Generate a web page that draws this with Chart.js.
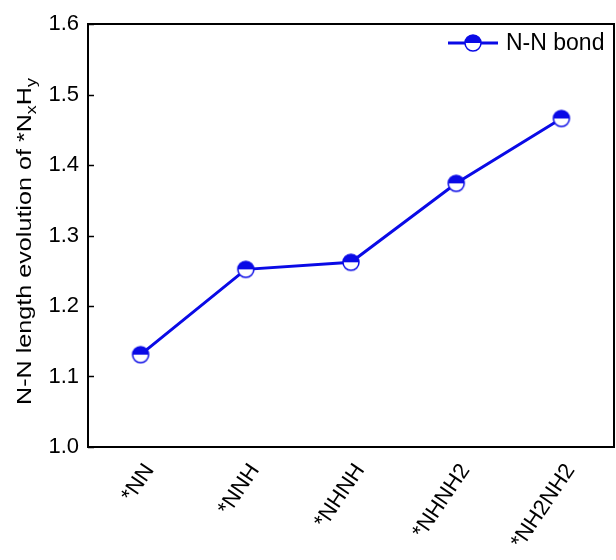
<!DOCTYPE html>
<html>
<head>
<meta charset="utf-8">
<script src="https://cdn.jsdelivr.net/npm/chart.js@4.4.1/dist/chart.umd.min.js"></script>
<style>
  html, body { margin: 0; padding: 0; background: #fff; }
  #wrap { width: 616px; height: 560px; }
</style>
</head>
<body>
<div id="wrap"><canvas id="chart" width="616" height="560"></canvas></div>
<script>
const species = ['*NN', '*NNH', '*NHNH', '*NHNH2', '*NH2NH2'];
const bondLength = [1.131, 1.252, 1.262, 1.374, 1.466];
const yTicks = [1.0, 1.1, 1.2, 1.3, 1.4, 1.5, 1.6];
const seriesName = 'N-N bond';

const BLUE = '#0a0ae6';
const FONT = '"Liberation Sans", Arial, sans-serif';

// half-filled circle marker (top half blue, bottom white)
function halfMarker(r) {
  const c = document.createElement('canvas');
  const s = r * 2 + 4;
  c.width = s; c.height = s;
  const g = c.getContext('2d');
  const m = s / 2;
  g.fillStyle = '#fff';
  g.beginPath(); g.arc(m, m, r, 0, Math.PI * 2); g.fill();
  g.fillStyle = BLUE;
  g.beginPath(); g.arc(m, m, r, Math.PI, Math.PI * 2); g.closePath(); g.fill();
  g.strokeStyle = BLUE; g.lineWidth = 1.5;
  g.beginPath(); g.arc(m, m, r, 0, Math.PI * 2); g.stroke();
  return c;
}
const marker = halfMarker(8);

const framePlugin = {
  id: 'frame',
  afterDraw(chart) {
    const ctx = chart.ctx;
    const a = chart.chartArea;
    const y = chart.scales.y;
    ctx.save();
    // inward ticks on y axis
    ctx.strokeStyle = '#000';
    ctx.lineWidth = 1.5;
    yTicks.forEach(v => {
      const py = Math.round(y.getPixelForValue(v)) + 0.5;
      ctx.beginPath(); ctx.moveTo(a.left, py); ctx.lineTo(a.left + 6, py); ctx.stroke();
    });
    // frame
    ctx.lineWidth = 2;
    ctx.strokeRect(a.left, a.top, a.right - a.left, a.bottom - a.top);

    // y title with subscripts, stretched along its length
    const parts = [
      ['N-N length evolution of *N', false],
      ['x', true],
      ['H', false],
      ['y', true]
    ];
    const big = '21px ' + FONT, small = '15px ' + FONT;
    let total = 0;
    parts.forEach(p => { ctx.font = p[1] ? small : big; total += ctx.measureText(p[0]).width; });
    const stretch = 327 / total;
    ctx.translate(31, (a.top + a.bottom) / 2 + 6);
    ctx.rotate(-Math.PI / 2);
    ctx.scale(stretch, 1);
    ctx.fillStyle = '#000';
    ctx.textBaseline = 'alphabetic';
    let x = -total / 2;
    parts.forEach(p => {
      ctx.font = p[1] ? small : big;
      ctx.fillText(p[0], x, p[1] ? 5 : 0);
      x += ctx.measureText(p[0]).width;
    });
    ctx.restore();

    // legend inside the plot
    ctx.save();
    const ly = a.top + 19;
    ctx.strokeStyle = BLUE;
    ctx.lineWidth = 3;
    ctx.beginPath(); ctx.moveTo(a.right - 166, ly); ctx.lineTo(a.right - 116, ly); ctx.stroke();
    ctx.drawImage(marker, a.right - 141 - marker.width / 2, ly - marker.height / 2);
    ctx.fillStyle = '#000';
    ctx.font = '23px ' + FONT;
    ctx.textBaseline = 'middle';
    ctx.fillText(seriesName, a.right - 108, ly + 1);
    ctx.restore();
  }
};

new Chart(document.getElementById('chart'), {
  type: 'line',
  data: {
    labels: species,
    datasets: [{
      label: seriesName,
      data: bondLength,
      borderColor: BLUE,
      borderWidth: 3,
      pointStyle: marker,
      pointRadius: 9,
      pointHoverRadius: 9,
      tension: 0
    }]
  },
  options: {
    responsive: false,
    animation: false,
    layout: { autoPadding: false, padding: { top: 24, right: 2, left: 0, bottom: 0 } },
    plugins: { legend: { display: false }, tooltip: { enabled: false } },
    scales: {
      x: {
        offset: true,
        grid: { display: false, drawTicks: false },
        border: { display: false },
        afterFit(s) { s.height = 113; s.paddingLeft = 0; s.paddingRight = 0; },
        ticks: {
          color: '#000',
          font: { family: FONT, size: 22 },
          minRotation: 56,
          maxRotation: 56,
          labelOffset: 9,
          padding: 12
        }
      },
      y: {
        min: 1.0,
        max: 1.6,
        afterFit(s) { s.width = 88; s.paddingTop = 0; s.paddingBottom = 0; },
        afterBuildTicks(s) { s.ticks = yTicks.map(v => ({ value: v })); },
        grid: { display: false, drawTicks: false },
        border: { display: false },
        ticks: {
          color: '#000',
          font: { family: FONT, size: 22 },
          padding: 9,
          callback: v => v.toFixed(1)
        }
      }
    }
  },
  plugins: [framePlugin]
});
</script>
</body>
</html>
